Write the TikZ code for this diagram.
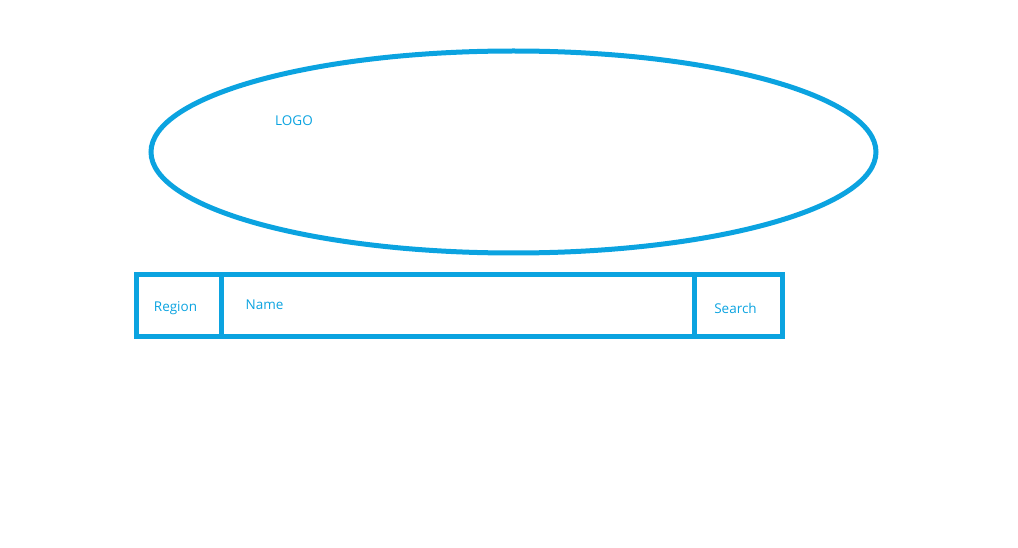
\documentclass[tikz,border=0pt]{standalone}
\usepackage{fontspec}
\setmainfont{Open Sans}
\usetikzlibrary{shapes.geometric}
\definecolor{sk}{HTML}{0BA3E0}
\begin{document}
\begin{tikzpicture}[x=1pt,y=-1pt,
  outl/.style={draw=sk,line width=5pt},
  lbl/.style={text=sk,font=\fontsize{13.5}{16}\selectfont,inner sep=0pt}]
\useasboundingbox (0,0) rectangle (1018,548);
\node[outl,ellipse,minimum width=725pt,minimum height=202pt,inner sep=0pt] (logo) at (513.5,152) {};
\node[lbl] (logotxt) at (294,121) {LOGO};
\node[outl,rectangle,minimum width=85pt,minimum height=61pt,inner sep=0pt] (region) at (178.5,305.5) {};
\node[outl,rectangle,minimum width=473pt,minimum height=61pt,inner sep=0pt] (name) at (457.5,305.5) {};
\node[outl,rectangle,minimum width=88pt,minimum height=61pt,inner sep=0pt] (search) at (738,305.5) {};
\node[lbl] (regiontxt) at (175.5,308.5) {Region};
\node[lbl,anchor=west] (nametxt) at (245.5,304.5) {Name};
\node[lbl] (searchtxt) at (735.5,308.5) {Search};
\end{tikzpicture}
\end{document}
